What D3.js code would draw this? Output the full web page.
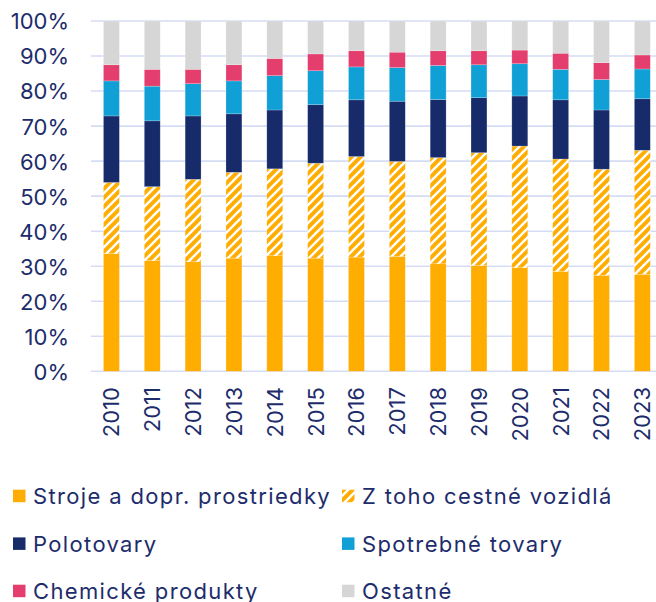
<!DOCTYPE html>
<html><head><meta charset="utf-8">
<script src="https://cdn.jsdelivr.net/npm/d3@7"></script>
<style>
html,body{margin:0;padding:0;background:#fff;}
text{font-family:Inter,"Open Sans",sans-serif;fill:#1d2c6b;}
</style></head>
<body>
<svg id="c" width="656" height="602"></svg>
<script>
const years = ["2010","2011","2012","2013","2014","2015","2016","2017","2018","2019","2020","2021","2022","2023"];
const stroje = [33.6,31.6,31.3,32.3,33.0,32.3,32.6,32.8,30.7,30.2,29.6,28.5,27.4,27.7];
const vozidla = [20.3,21.1,23.5,24.5,24.8,27.1,28.7,27.1,30.3,32.2,34.7,32.1,30.3,35.4];
const polotovary = [19.0,18.8,18.1,16.7,16.8,16.7,16.2,17.2,16.6,15.7,14.3,16.9,16.9,14.7];
const spotrebne = [10.0,9.9,9.2,9.4,9.8,9.7,9.4,9.6,9.7,9.4,9.2,8.7,8.7,8.5];
const chemicke = [4.6,4.8,4.1,4.6,4.9,4.8,4.6,4.4,4.2,4.0,3.9,4.6,4.8,4.0];
const ostatne = [12.5,13.8,13.8,12.5,10.7,9.4,8.5,8.9,8.5,8.5,8.3,9.2,11.9,9.7];
const yTicks = [0,10,20,30,40,50,60,70,80,90,100];

const seriesNames = ["Stroje a dopr. prostriedky","Z toho cestné vozidlá","Polotovary","Spotrebné tovary","Chemické produkty","Ostatné"];
const seriesVals = [stroje, vozidla, polotovary, spotrebne, chemicke, ostatne];
const colors = ["#ffad00","url(#hatch)","#172b6b","#11a0d6","#e33e6e","#d6d6d6"];

const svg = d3.select("#c");
const defs = svg.append("defs");
const pat = defs.append("pattern").attr("id","hatch").attr("patternUnits","userSpaceOnUse")
  .attr("width",9).attr("height",9);
pat.append("rect").attr("width",9).attr("height",9).attr("fill","#ffad00");
pat.append("path").attr("d","M-2,2 L2,-2 M0,9 L9,0 M7,11 L11,7").attr("stroke","#fff").attr("stroke-width",2.4);

const x = d3.scaleBand().domain(years).range([91, 91+14*40.84]).paddingInner(0.61).paddingOuter(0.305);
const y = d3.scaleLinear().domain([0,100]).range([371.3, 21]);

// grid
svg.append("g").selectAll("line").data(yTicks).join("line")
  .attr("x1",91).attr("x2",656).attr("y1",d=>y(d)).attr("y2",d=>y(d))
  .attr("stroke","#d5dcf5").attr("stroke-width",1.6);

// y axis labels
const yAxis = d3.axisLeft(y).tickValues(yTicks).tickFormat(d=>d+"%").tickSize(0).tickPadding(0);
const ya = svg.append("g").attr("transform","translate(69,0)").call(yAxis);
ya.select(".domain").remove();
ya.selectAll("text").attr("font-size",22).attr("font-family","Inter").attr("fill","#1d2c6b").attr("dy","0.36em");

// stacked data
const table = years.map((yr,i)=>{const o={year:yr}; seriesNames.forEach((s,k)=>o[s]=seriesVals[k][i]); return o;});
const stack = d3.stack().keys(seriesNames)(table);

svg.append("g").selectAll("g").data(stack).join("g")
  .attr("fill",(d,i)=>colors[i])
  .selectAll("rect").data(d=>d).join("rect")
  .attr("x",d=>x(d.data.year)).attr("width",x.bandwidth())
  .attr("y",d=>y(d[1])).attr("height",d=>y(d[0])-y(d[1]))
  .attr("stroke","rgba(255,255,255,0.35)").attr("stroke-width",0.6);

// x axis labels
const xAxis = d3.axisBottom(x).tickSize(0).tickPadding(0);
const xa = svg.append("g").attr("transform","translate(0,387)").call(xAxis);
xa.select(".domain").remove();
xa.selectAll("text").attr("font-size",22).attr("font-family","Inter").attr("fill","#1d2c6b")
  .attr("transform","rotate(-90)").attr("text-anchor","end").attr("dy","0.36em").attr("x",0).attr("y",0);

// legend
const legPos = [[13,496],[342,496],[13,543.7],[342,543.7],[13,591],[342,591]];
const leg = svg.append("g").selectAll("g").data(seriesNames).join("g")
  .attr("transform",(d,i)=>`translate(${legPos[i][0]},${legPos[i][1]})`);
leg.append("rect").attr("x",0).attr("y",-6.3).attr("width",12.5).attr("height",12.5).attr("fill",(d,i)=>colors[i]);
leg.append("text").attr("x",20).attr("dy","0.36em").attr("font-size",22).attr("letter-spacing","1.35px").text(d=>d);
</script>
</body></html>
